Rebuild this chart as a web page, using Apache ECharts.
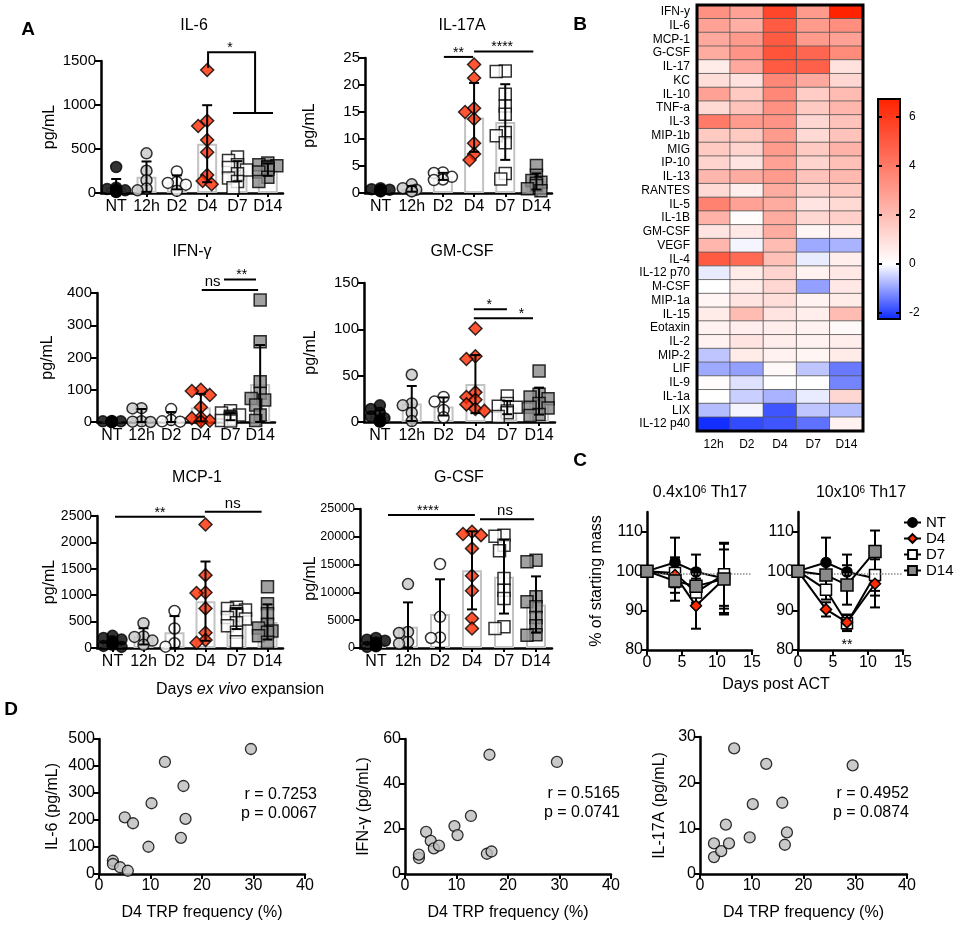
<!DOCTYPE html>
<html>
<head>
<meta charset="utf-8">
<title>Th17 cytokines</title>
<script src="https://cdn.jsdelivr.net/npm/echarts@6.0.0/dist/echarts.min.js"></script>
<style>
  html, body { margin: 0; padding: 0; background: #fff; }
  #main { width: 957px; height: 929px; }
</style>
</head>
<body>
<div id="main"></div>
<script>
// ---------- panel A: cytokines (pg/mL), one list per expansion group ----------
var groups = ['NT', '12h', 'D2', 'D4', 'D7', 'D14'];

var il6 = [
    [295, 60, 45, 30, 20, 40, 15, 10],
    [451, 253, 144, 50, 30],
    [245, 125, 115, 95, 25],
    [1397, 821, 761, 602, 462, 204, 136, 99],
    [410, 370, 320, 290, 260, 220, 170, 130, 60],
    [340, 320, 310, 300, 290, 270, 240, 180, 130]
];
var il17a = [
    [0.9, 0.7, 0.6, 0.5, 0.4, 0.3, 0.5, 0.6],
    [1.6, 0.9, 0.6, 0.4, 0.3],
    [3.8, 3.7, 3.0, 2.5, 2.4],
    [23.8, 21.3, 15.7, 15.0, 13.7, 9.2, 7.2, 6.1],
    [22.6, 22.5, 18.3, 16.1, 14.6, 11.2, 10.6, 9.3, 3.6, 2.6],
    [5.1, 3.3, 2.3, 2.0, 1.8, 1.4, 0.8, 0.4]
];
var ifng = [
    [3, 2, 2, 1, 1, 0.5, 0.5, 0],
    [43, 42, 2, 1, 0],
    [40, 6, 2, 1],
    [100, 96, 84, 46, 14, 12, 4, 2],
    [35, 28, 22, 18, 15, 12, 8, 5, 3],
    [378, 249, 125, 89, 73, 68, 53, 22, 5]
];
var gmcsf = [
    [18, 14, 10, 6, 4, 2, 1, 0.5, 0.5],
    [51, 20, 18, 10, 1],
    [27, 22, 13, 5],
    [101, 71, 68, 32, 27, 24, 19, 14, 12],
    [28, 20, 17, 16, 12, 10, 6],
    [55, 30, 27, 25, 20, 16, 15, 8, 7]
];
var mcp1 = [
    [230, 190, 160, 130, 100, 80, 60, 40, 20],
    [470, 220, 210, 140, 60],
    [700, 370, 90, 25],
    [2340, 1380, 1050, 1040, 750, 290, 150, 100],
    [770, 750, 720, 690, 650, 620, 580, 550, 480, 420, 300, 120],
    [1160, 840, 650, 450, 380, 320, 300, 230, 110]
];
var gcsf = [
    [1800, 1500, 1300, 1000, 700, 500, 300, 200],
    [11500, 2900, 2700, 1100, 800],
    [15100, 5600, 1900, 1800],
    [20900, 20500, 20300, 17900, 13000, 10300, 5300, 3500],
    [20300, 20100, 18500, 17500, 12500, 10400, 8900, 3800, 3500],
    [15800, 15500, 9200, 8300, 7400, 5500, 4000, 2400, 2300]
];

// significance brackets: x in group index units, y in pg/mL
var sigIl6 = [
    {path: [[3.03, 1420], [3.03, 1600], [4.58, 1600], [4.58, 910]]},
    {path: [[3.85, 910], [5.17, 910]]},
    {at: [3.75, 1600], text: '*'}
];
var sigIl17a = [
    {path: [[2.03, 25.2], [2.97, 25.2]]},
    {at: [2.5, 25.2], text: '**'},
    {path: [[3.0, 26.2], [4.9, 26.2]]},
    {at: [3.9, 26.2], text: '****'}
];
var sigIfng = [
    {path: [[3.03, 409], [4.93, 409]]},
    {at: [3.4, 409], text: 'ns'},
    {path: [[3.78, 442], [4.86, 442]]},
    {at: [4.38, 442], text: '**'}
];
var sigGmcsf = [
    {path: [[2.95, 121.6], [3.99, 121.6]]},
    {at: [3.43, 121.6], text: '*'},
    {path: [[2.95, 112], [4.81, 112]]},
    {at: [4.45, 112], text: '*'}
];
var sigMcp1 = [
    {path: [[0.08, 2487], [2.98, 2487]]},
    {at: [1.53, 2487], text: '**'},
    {path: [[2.98, 2581], [4.81, 2581]]},
    {at: [3.88, 2581], text: 'ns'}
];
var sigGcsf = [
    {path: [[0.375, 23930], [3.09, 23930]]},
    {at: [1.625, 23930], text: '****'},
    {path: [[3.25, 23150], [4.94, 23150]]},
    {at: [4.03, 23150], text: 'ns'}
];

// ---------- panel B: heatmap (log2 fold change) ----------
var hmCols = ['12h', 'D2', 'D4', 'D7', 'D14'];
var hmRows = ['IFN-y', 'IL-6', 'MCP-1', 'G-CSF', 'IL-17', 'KC', 'IL-10', 'TNF-a', 'IL-3', 'MIP-1b',
    'MIG', 'IP-10', 'IL-13', 'RANTES', 'IL-5', 'IL-1B', 'GM-CSF', 'VEGF', 'IL-4', 'IL-12 p70',
    'M-CSF', 'MIP-1a', 'IL-15', 'Eotaxin', 'IL-2', 'MIP-2', 'LIF', 'IL-9', 'IL-1a', 'LIX', 'IL-12 p40'];
var hmValues = [
    [3.3, 2.8, 5.6, 3.0, 6.7],
    [2.8, 2.4, 5.0, 3.0, 3.4],
    [2.6, 3.0, 5.0, 3.0, 2.8],
    [2.5, 3.2, 5.2, 4.6, 3.5],
    [0.6, 2.6, 5.0, 4.8, 0.9],
    [1.0, 0.9, 3.6, 2.6, 1.2],
    [2.8, 1.6, 3.6, 1.5, 2.0],
    [1.1, 1.8, 3.3, 1.6, 2.2],
    [4.0, 3.0, 3.2, 1.2, 1.8],
    [1.6, 1.6, 3.0, 1.1, 1.8],
    [1.6, 1.3, 3.0, 1.6, 2.3],
    [1.3, 0.8, 2.8, 1.3, 1.9],
    [2.2, 2.5, 3.0, 1.8, 2.1],
    [1.1, 0.5, 2.5, 1.3, 1.6],
    [3.8, 2.8, 2.5, 0.8, 1.1],
    [2.3, 0.1, 2.5, 1.2, 1.4],
    [0.8, 0.7, 2.5, 0.3, 0.5],
    [2.2, -0.1, 2.0, -0.9, -0.8],
    [5.0, 4.5, 1.9, -0.2, 0.5],
    [-0.2, 0.6, 1.3, 0.4, 0.7],
    [0.0, 0.6, 1.2, -1.0, 0.7],
    [0.3, 0.8, 1.0, 0.4, 0.6],
    [0.6, 2.0, 0.8, 0.5, 2.0],
    [0.4, 0.5, 0.5, 0.4, 0.2],
    [0.4, 0.8, 0.5, 0.4, 0.5],
    [-0.6, 0.6, 0.4, 0.3, 0.6],
    [-0.9, -1.0, 0.2, -0.6, -1.4],
    [0.1, -0.3, 0.0, 0.0, -1.3],
    [0.0, -0.5, -0.8, -0.2, 1.2],
    [-0.7, -0.1, -1.8, -0.6, -0.7],
    [-2.2, -1.9, -1.8, -1.5, 0.4]
];
var hmMin = -2.24, hmMax = 6.73;
var hmTicks = [-2, 0, 2, 4, 6];

// ---------- panel C: body mass after ACT ----------
var actDays = [0, 4, 7, 11];
var actGroups = ['NT', 'D4', 'D7', 'D14'];
var lowMean = [[100, 102.2, 99.8, 98.2], [100, 99.0, 91.2, 98.0], [100, 99.5, 94.6, 99.2], [100, 97.5, 96.2, 98.0]];
var lowSd = [[0, 6.3, 4.4, 8.8], [0, 4.5, 5.8, 9.0], [0, 3.5, 3.5, 8.0], [0, 5.0, 4.2, 7.5]];
var highMean = [[100, 102.2, 99.8, 98.2], [100, 90.3, 87.0, 96.8], [100, 95.3, 86.8, 99.0], [100, 99.0, 96.5, 105.0]];
var highSd = [[0, 6.3, 4.4, 7.4], [0, 1.8, 2.0, 3.0], [0, 2.5, 2.0, 4.0], [0, 3.0, 5.0, 5.3]];
var baseline = 99.3;
var sigAct = [{at: [7, 80.2], text: '**'}];

// ---------- panel D: correlation with D4 TRP frequency ----------
var trpFreq = [2.7, 2.7, 4.1, 5.0, 5.6, 6.6, 9.6, 10.2, 12.8, 15.9, 16.4, 16.8, 29.5];
var il6Conc = [49, 37, 25, 210, 12, 188, 101, 262, 415, 134, 326, 204, 463];
var ifngConc = [7.1, 8.6, 18.7, 14.7, 11.4, 12.6, 21.3, 17.3, 25.8, 9.0, 53.0, 10.0, 49.8];
var il17Conc = [6.7, 3.7, 5.0, 10.8, 6.7, 27.5, 8.0, 15.3, 24.1, 15.6, 6.4, 9.1, 23.8];
var corrText = ['r = 0.7253\np = 0.0067', 'r = 0.5165\np = 0.0741', 'r = 0.4952\np = 0.0874'];

// ================= layout / styles =================
var FONT = '"Liberation Sans", Arial, Helvetica, sans-serif';

var groupSymbol = ['circle', 'circle', 'circle', 'diamond', 'rect', 'rect'];
var groupFill = ['#000000', '#c8c8c8', '#ffffff', '#ff2a00', '#ffffff', '#8a8a8a'];
var groupSize = [11, 11, 11, 13, 12, 12];

var panelA = [
    {title: 'IL-6', values: il6, max: 1500, step: 500, sig: sigIl6},
    {title: 'IL-17A', values: il17a, max: 25, step: 5, sig: sigIl17a},
    {title: 'IFN-\u03b3', values: ifng, max: 400, step: 100, sig: sigIfng},
    {title: 'GM-CSF', values: gmcsf, max: 150, step: 50, sig: sigGmcsf},
    {title: 'MCP-1', values: mcp1, max: 2500, step: 500, sig: sigMcp1},
    {title: 'G-CSF', values: gcsf, max: 25000, step: 5000, sig: sigGcsf}
];
var boxA = [
    {left: 101, top: 61, width: 182, height: 132, title: [194, 26], gap: 43, tick: 15},
    {left: 365, top: 58, width: 187, height: 135, title: [462, 26], gap: 47, tick: 15},
    {left: 97, top: 293, width: 178, height: 129, title: [192, 252], gap: 41, tick: 15},
    {left: 364, top: 283, width: 191, height: 139, title: [462, 252], gap: 45, tick: 15},
    {left: 97, top: 516, width: 186, height: 132, title: [197, 478], gap: 39, tick: 14},
    {left: 360, top: 509, width: 192, height: 139, title: [459, 478], gap: 41, tick: 12.5}
];

var option = {
    animation: false,
    backgroundColor: '#ffffff',
    textStyle: {fontFamily: FONT, color: '#000'},
    grid: [], xAxis: [], yAxis: [], series: [], graphic: []
};

function addGrid(box, extra) {
    option.grid.push(Object.assign({outerBoundsMode: 'none', containLabel: false},
        {left: box.left, top: box.top, width: box.width, height: box.height}, extra || {}));
    return option.grid.length - 1;
}
function push(list, item) { list.push(item); return list.length - 1; }

function line(width) { return {show: true, onZero: false, lineStyle: {color: '#000', width: width || 2.5}}; }
function tick(len) { return {show: true, length: len, lineStyle: {color: '#000', width: 2}}; }
function plain(v) { return String(v); }

function text(x, y, str, size, extra) {
    option.graphic.push({
        type: 'text', x: x, y: y, silent: true,
        style: Object.assign({
            text: str, fontSize: size, fontFamily: FONT, fill: '#000',
            align: 'center', verticalAlign: 'middle', textAlign: 'center', textVerticalAlign: 'middle'
        }, extra || {})
    });
}

function mean(a) { return a.reduce(function (s, v) { return s + v; }, 0) / a.length; }
function sd(a) {
    var m = mean(a);
    return Math.sqrt(a.reduce(function (s, v) { return s + (v - m) * (v - m); }, 0) / (a.length - 1));
}

// spread markers of one group sideways so they don't pile up (like a dot plot)
function swarm(vals, pxPerVal, pxPerBand) {
    var placed = [];
    var slots = [0, -1, 1, -2, 2];
    return vals.map(function (v) {
        var best = 0;
        for (var k = 0; k < slots.length; k++) {
            var dx = slots[k] * 4.5;
            var free = placed.every(function (p) {
                var dy = (p.v - v) * pxPerVal;
                return Math.sqrt((p.dx - dx) * (p.dx - dx) + dy * dy) >= 7;
            });
            if (free) { best = dx; break; }
        }
        placed.push({v: v, dx: best});
        return best / pxPerBand;
    });
}

function errorSeries(xi, yi, items, cap, z) {
    return {
        type: 'custom', xAxisIndex: xi, yAxisIndex: yi, silent: true, z: z, data: items,
        renderItem: function (params, api) {
            var lo = api.coord([api.value(0), api.value(1)]);
            var hi = api.coord([api.value(0), api.value(2)]);
            var st = {stroke: '#000', lineWidth: 2};
            return {type: 'group', children: [
                {type: 'line', shape: {x1: lo[0], y1: lo[1], x2: hi[0], y2: hi[1]}, style: st},
                {type: 'line', shape: {x1: lo[0] - cap, y1: lo[1], x2: lo[0] + cap, y2: lo[1]}, style: st},
                {type: 'line', shape: {x1: hi[0] - cap, y1: hi[1], x2: hi[0] + cap, y2: hi[1]}, style: st}
            ]};
        }
    };
}

function annotationSeries(xi, yi, items) {
    return {
        type: 'custom', xAxisIndex: xi, yAxisIndex: yi, silent: true, z: 6, clip: false,
        data: items.map(function (a) { return a.path ? a.path[0] : a.at; }),
        renderItem: function (params, api) {
            var a = items[params.dataIndex];
            if (a.path) {
                return {type: 'polyline', shape: {points: a.path.map(function (p) { return api.coord(p); })},
                    style: {stroke: '#000', lineWidth: 2, fill: null}};
            }
            var c = api.coord(a.at);
            var star = a.text.indexOf('*') >= 0;
            return {type: 'text', x: c[0], y: c[1] - 8 + (star ? 4 : 0),
                style: {text: a.text, fontSize: star ? 14 : 15, fontFamily: FONT, fill: '#000',
                    align: 'center', verticalAlign: 'middle', textAlign: 'center', textVerticalAlign: 'middle'}};
        }
    };
}

// ================= panel A =================
panelA.forEach(function (p, i) {
    var b = boxA[i];
    var gi = addGrid(b);
    var xCat = push(option.xAxis, {
        type: 'category', gridIndex: gi, data: groups, position: 'bottom',
        axisLine: line(2.5), axisTick: {show: true, alignWithLabel: true, length: 4, lineStyle: {color: '#000', width: 2}},
        axisLabel: {interval: 0, fontSize: 16, color: '#000', margin: 6}, splitLine: {show: false}
    });
    var xVal = push(option.xAxis, {type: 'value', gridIndex: gi, min: -0.5, max: 5.5, show: false, position: 'top',
        axisLine: {onZero: false}, splitLine: {show: false}});
    var yi = push(option.yAxis, {
        type: 'value', gridIndex: gi, min: 0, max: p.max, interval: p.step,
        name: 'pg/mL', nameLocation: 'middle', nameGap: b.gap, nameMoveOverlap: false,
        nameTextStyle: {fontSize: 16, color: '#000', fontFamily: FONT},
        axisLine: line(2.5), axisTick: tick(6),
        axisLabel: {fontSize: b.tick, color: '#000', margin: 5, formatter: plain},
        splitLine: {show: false}
    });
    var means = p.values.map(mean);
    option.series.push({
        type: 'bar', xAxisIndex: xCat, yAxisIndex: yi, data: means, barWidth: 20, silent: true, z: 1,
        itemStyle: {color: 'rgba(255,255,255,0)', borderColor: '#c3c3c3', borderWidth: 2}
    });
    var pts = [];
    p.values.forEach(function (vals, g) {
        var offs = swarm(vals, b.height / p.max, b.width / groups.length);
        vals.forEach(function (v, k) {
            pts.push({value: [g + offs[k], v], symbol: groupSymbol[g], symbolSize: groupSize[g],
                itemStyle: {color: groupFill[g], borderColor: '#000', borderWidth: 1.5}});
        });
    });
    option.series.push({type: 'scatter', xAxisIndex: xVal, yAxisIndex: yi, data: pts, z: 3, silent: true});
    option.series.push(errorSeries(xVal, yi, p.values.map(function (vals, g) {
        return [g, Math.max(0, means[g] - sd(vals)), means[g] + sd(vals)];
    }), 5, 4));
    option.series.push(annotationSeries(xVal, yi, p.sig));
    text(b.title[0], b.title[1], p.title, 16);
});

text(240, 690, '{a|Days }{i|ex vivo}{a| expansion}', 16, {
    rich: {
        a: {fontSize: 16, fontFamily: FONT, fill: '#000'},
        i: {fontSize: 16, fontFamily: FONT, fontStyle: 'italic', fill: '#000'}
    }
});

// ================= panel B =================
var gH = addGrid({left: 697, top: 5, width: 166, height: 426},
    {show: true, borderColor: '#000', borderWidth: 3, backgroundColor: 'transparent', z: 10});
var hxi = push(option.xAxis, {
    type: 'category', gridIndex: gH, data: hmCols, axisLine: {show: false}, axisTick: {show: false},
    axisLabel: {interval: 0, fontSize: 12, color: '#000', margin: 8}, splitLine: {show: false}
});
var hyi = push(option.yAxis, {
    type: 'category', gridIndex: gH, data: hmRows, inverse: true, axisLine: {show: false}, axisTick: {show: false},
    axisLabel: {interval: 0, fontSize: 12, color: '#000', margin: 7}, splitLine: {show: false}
});
var hmData = [];
hmValues.forEach(function (row, r) {
    row.forEach(function (v, c) { hmData.push([c, r, v]); });
});
var hmSeries = push(option.series, {
    type: 'heatmap', xAxisIndex: hxi, yAxisIndex: hyi, data: hmData, silent: true,
    itemStyle: {borderColor: '#555', borderWidth: 0.8},
    emphasis: {disabled: true}
});
option.visualMap = [{
    type: 'continuous', seriesIndex: hmSeries, min: hmMin, max: hmMax, calculable: false,
    left: 878, top: 99, itemWidth: 22, itemHeight: 220, padding: 0,
    inRange: {color: ['#0f2bff', '#ffffff', '#ffb4aa', '#ff6a55', '#ff2200']}
}];
// colour-bar frame and ticks
var gCB = addGrid({left: 878, top: 99, width: 22, height: 220},
    {show: true, borderColor: '#000', borderWidth: 2, backgroundColor: 'transparent', z: 10});
push(option.xAxis, {type: 'value', gridIndex: gCB, show: false, min: 0, max: 1});
push(option.yAxis, {
    type: 'value', gridIndex: gCB, min: hmMin, max: hmMax, position: 'right', z: 10,
    axisLine: {show: false, onZero: false},
    axisTick: {show: true, inside: true, length: 4, customValues: hmTicks, lineStyle: {color: '#000', width: 2}},
    axisLabel: {show: true, customValues: hmTicks, fontSize: 12, color: '#000', margin: 9},
    splitLine: {show: false}
});
push(option.yAxis, {
    type: 'value', gridIndex: gCB, min: hmMin, max: hmMax, position: 'left', z: 10,
    axisLine: {show: false, onZero: false},
    axisTick: {show: true, inside: true, length: 4, customValues: hmTicks, lineStyle: {color: '#000', width: 2}},
    axisLabel: {show: false}, splitLine: {show: false}
});

// ================= panel C =================
var actSymbol = ['circle', 'diamond', 'rect', 'rect'];
var actFill = ['#000000', '#ff2a00', '#ffffff', '#8a8a8a'];
var actSize = [10, 11, 11, 12];
var actZ = [3, 4, 3, 5];
var boxC = [{left: 647, top: 512, width: 105, height: 138}, {left: 798, top: 512, width: 105, height: 138}];
[[lowMean, lowSd], [highMean, highSd]].forEach(function (set, ci) {
    var gi = addGrid(boxC[ci]);
    var xi = push(option.xAxis, {
        type: 'value', gridIndex: gi, min: 0, max: 15, interval: 5,
        axisLine: line(2.5), axisTick: tick(5),
        axisLabel: {fontSize: 16, color: '#000', margin: 5}, splitLine: {show: false}
    });
    var yi = push(option.yAxis, {
        type: 'value', gridIndex: gi, min: 80, max: 115,
        name: ci === 0 ? '% of starting mass' : '', nameLocation: 'middle', nameGap: 42, nameMoveOverlap: false,
        nameTextStyle: {fontSize: 16, color: '#000'},
        axisLine: line(2.5),
        axisTick: {show: true, length: 5, customValues: [80, 90, 100, 110], lineStyle: {color: '#000', width: 2}},
        axisLabel: {fontSize: 16, color: '#000', margin: 4, customValues: [80, 90, 100, 110]},
        splitLine: {show: false}
    });
    var bars = [];
    actGroups.forEach(function (name, g) {
        var s = {
            type: 'line', name: name, xAxisIndex: xi, yAxisIndex: yi, z: actZ[g], silent: true,
            data: actDays.map(function (d, k) { return [d, set[0][g][k]]; }),
            symbol: actSymbol[g], symbolSize: actSize[g], showAllSymbol: true,
            itemStyle: {color: actFill[g], borderColor: '#000', borderWidth: 1.5},
            lineStyle: {color: '#000', width: 2}
        };
        if (g === 0) {
            s.markLine = {silent: true, symbol: ['none', 'none'], label: {show: false},
                lineStyle: {type: 'dotted', color: '#8c8c8c', width: 1.5}, data: [{yAxis: baseline}]};
        }
        option.series.push(s);
        actDays.forEach(function (d, k) {
            var e = set[1][g][k];
            if (e > 0) bars.push([d, set[0][g][k] - e, set[0][g][k] + e]);
        });
    });
    option.series.push(errorSeries(xi, yi, bars, 5, 2));
    if (ci === 1) option.series.push(annotationSeries(xi, yi, sigAct));
});
option.legend = {
    data: actGroups, orient: 'vertical', left: 903, top: 515, itemWidth: 17, itemHeight: 11, itemGap: 1,
    selectedMode: false, padding: 0,
    textStyle: {fontSize: 15, color: '#000', lineHeight: 14, fontFamily: FONT}
};
text(700, 493, '{a|0.4x10}{s|6}{a| Th17}', 16, {
    rich: {a: {fontSize: 16, fontFamily: FONT, fill: '#000'}, s: {fontSize: 10, fontFamily: FONT, fill: '#000', verticalAlign: 'top'}}
});
text(861, 493, '{a|10x10}{s|6}{a| Th17}', 16, {
    rich: {a: {fontSize: 16, fontFamily: FONT, fill: '#000'}, s: {fontSize: 10, fontFamily: FONT, fill: '#000', verticalAlign: 'top'}}
});
text(776, 685, 'Days post ACT', 16);

// ================= panel D =================
var panelD = [
    {values: il6Conc, max: 500, step: 100, name: 'IL-6 (pg/mL)'},
    {values: ifngConc, max: 60, step: 20, name: 'IFN-\u03b3 (pg/mL)'},
    {values: il17Conc, max: 30, step: 10, name: 'IL-17A (pg/mL)'}
];
var boxD = [
    {left: 99, top: 739, width: 206, height: 135, gap: 38, note: [317, 804]},
    {left: 405, top: 739, width: 206, height: 135, gap: 33, note: [620, 803]},
    {left: 700, top: 737, width: 207, height: 137, gap: 32, note: [909, 803]}
];
panelD.forEach(function (p, i) {
    var b = boxD[i];
    var gi = addGrid(b);
    var xi = push(option.xAxis, {
        type: 'value', gridIndex: gi, min: 0, max: 40, interval: 10,
        name: 'D4 TRP frequency (%)', nameLocation: 'middle', nameGap: 31, nameMoveOverlap: false,
        nameTextStyle: {fontSize: 16, color: '#000'},
        axisLine: line(2.5), axisTick: tick(5),
        axisLabel: {fontSize: 16, color: '#000', margin: 4}, splitLine: {show: false}
    });
    var yi = push(option.yAxis, {
        type: 'value', gridIndex: gi, min: 0, max: p.max, interval: p.step,
        name: p.name, nameLocation: 'middle', nameGap: b.gap, nameMoveOverlap: false,
        nameTextStyle: {fontSize: 16, color: '#000'},
        axisLine: line(2.5), axisTick: tick(5),
        axisLabel: {fontSize: 16, color: '#000', margin: 4}, splitLine: {show: false}
    });
    option.series.push({
        type: 'scatter', xAxisIndex: xi, yAxisIndex: yi, silent: true, z: 3,
        data: trpFreq.map(function (f, k) { return [f, p.values[k]]; }),
        symbol: 'circle', symbolSize: 11,
        itemStyle: {color: '#bdbdbd', borderColor: '#000', borderWidth: 1.3}
    });
    text(b.note[0], b.note[1], corrText[i], 16, {align: 'right', textAlign: 'right', lineHeight: 19});
});

// panel letters
text(28, 30, 'A', 19, {fontWeight: 'bold'});
text(580, 25, 'B', 19, {fontWeight: 'bold'});
text(580, 461, 'C', 19, {fontWeight: 'bold'});
text(11, 710, 'D', 19, {fontWeight: 'bold'});

var chart = echarts.init(document.getElementById('main'), null, {renderer: 'canvas'});
chart.setOption(option);
</script>
</body>
</html>
